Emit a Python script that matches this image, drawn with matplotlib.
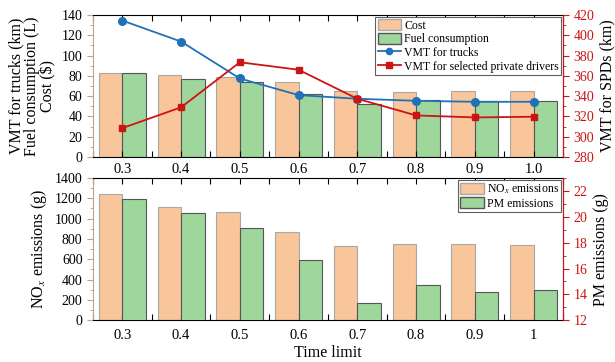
import matplotlib
matplotlib.use("Agg")
import numpy as np
from matplotlib import pyplot as plt
from matplotlib.ticker import MultipleLocator
from matplotlib.patches import Patch
from matplotlib.lines import Line2D

plt.rcParams['font.family'] = ['Liberation Serif', 'DejaVu Serif']
plt.rcParams['mathtext.fontset'] = 'stix'

# data
time_limit = [0.3, 0.4, 0.5, 0.6, 0.7, 0.8, 0.9, 1.0]
bottom_labels = ['0.3', '0.4', '0.5', '0.6', '0.7', '0.8', '0.9', '1']
cost = [83, 81, 79, 74, 65, 64, 65, 65]
fuel = [82.5, 76.7, 74, 62.3, 52.2, 56.4, 54.8, 55.1]
vmt_trucks = [134.5, 113.8, 77.4, 61, 57.4, 55.4, 54.4, 54.4]
vmt_spd = [308.5, 329, 373.4, 366, 337.4, 321, 319, 319.7]
nox = [1243, 1112, 1066, 866, 728, 748, 748, 738]
pm = [21.4, 20.33, 19.1, 16.65, 13.36, 14.7, 14.16, 14.37]

orange = '#F9C59A'
green = '#9ED69C'
blue = '#1f72b8'
red = '#cc1414'
tan = '#c4a07c'
w = 0.04

fig = plt.figure(figsize=(6.15, 3.62), dpi=100)
ax1 = fig.add_axes([0.1512, 0.5663, 0.7642, 0.3923])
ax2 = fig.add_axes([0.1512, 0.1152, 0.7642, 0.3931])
x = np.array(time_limit)


def style_x(ax, labels, pad):
    ax.set_xlim(0.25, 1.05)
    ax.set_xticks(time_limit)
    ax.set_xticklabels(labels, fontsize=10.5)
    ax.xaxis.set_minor_locator(MultipleLocator(0.05))
    ax.tick_params(axis='x', which='both', direction='in', top=True, bottom=True,
                   length=4, width=0.8, pad=pad)
    ax.spines['left'].set_color(tan)
    ax.tick_params(axis='y', which='both', direction='out', color=tan, labelsize=10)
    ax.tick_params(axis='y', which='major', length=4)
    ax.tick_params(axis='y', which='minor', length=2.5)


def style_right(tw):
    for s in ['left', 'top', 'bottom']:
        tw.spines[s].set_visible(False)
    tw.spines['right'].set_color(red)
    tw.tick_params(axis='y', which='both', direction='out', color=red,
                   labelcolor=red, labelsize=10)
    tw.tick_params(axis='y', which='major', length=4)
    tw.tick_params(axis='y', which='minor', length=2.5)


def make_legend(tw, handles, labels):
    leg = tw.legend(handles, labels, loc='upper right', bbox_to_anchor=(0.996, 0.986),
                    borderaxespad=0, fontsize=8.5, fancybox=False, framealpha=1,
                    edgecolor='#606060', handlelength=2.0, handleheight=1.0,
                    handletextpad=0.25, labelspacing=0.12, borderpad=0.2)
    leg.get_frame().set_linewidth(0.8)
    return leg


# top panel
ax1.bar(x - w / 2, cost, w, color=orange, edgecolor='#a8a8a8', linewidth=0.8)
ax1.bar(x + w / 2, fuel, w, color=green, edgecolor='#555555', linewidth=0.8)
ax1.plot(x, vmt_trucks, color=blue, marker='o', markersize=5.5, linewidth=1.3)
ax1.set_ylim(0, 140)
ax1.yaxis.set_major_locator(MultipleLocator(20))
ax1.yaxis.set_minor_locator(MultipleLocator(10))
style_x(ax1, ['%.1f' % t for t in time_limit], 4.5)
ax1.set_ylabel('VMT for trucks (km)\nFuel consumption (L)\nCost ($)', fontsize=11.5,
               linespacing=1.0)

tw1 = ax1.twinx()
tw1.plot(x, vmt_spd, color=red, marker='s', markersize=5, linewidth=1.3)
tw1.set_ylim(280, 420)
tw1.yaxis.set_major_locator(MultipleLocator(20))
tw1.yaxis.set_minor_locator(MultipleLocator(10))
style_right(tw1)
tw1.set_ylabel('VMT for SPDs (km)', fontsize=11.5)

h1 = [Patch(facecolor=orange, edgecolor='#a8a8a8'),
      Patch(facecolor=green, edgecolor='#555555'),
      Line2D([], [], color=blue, marker='o', markersize=4.5, linewidth=1.3),
      Line2D([], [], color=red, marker='s', markersize=4, linewidth=1.3)]
make_legend(tw1, h1, ['Cost', 'Fuel consumption', 'VMT for trucks',
                      'VMT for selected private drivers'])

# bottom panel
ax2.bar(x - w / 2, nox, w, color=orange, edgecolor='#a8a8a8', linewidth=0.8)
ax2.set_ylim(0, 1400)
ax2.yaxis.set_major_locator(MultipleLocator(200))
ax2.yaxis.set_minor_locator(MultipleLocator(100))
style_x(ax2, bottom_labels, 6.5)
ax2.set_ylabel('NO$_x$ emissions (g)', fontsize=11.5)
ax2.set_xlabel('Time limit', fontsize=11.5, labelpad=2)

tw2 = ax2.twinx()
tw2.bar(x + w / 2, pm, w, color=green, edgecolor='#555555', linewidth=0.8)
tw2.set_ylim(12, 23)
tw2.yaxis.set_major_locator(MultipleLocator(2))
tw2.yaxis.set_minor_locator(MultipleLocator(1))
style_right(tw2)
tw2.set_ylabel('PM emissions (g)', fontsize=11.5)

h2 = [Patch(facecolor=orange, edgecolor='#a8a8a8'),
      Patch(facecolor=green, edgecolor='#555555')]
make_legend(tw2, h2, ['NO$_x$ emissions', 'PM emissions'])

plt.savefig('out.png', dpi=100)
